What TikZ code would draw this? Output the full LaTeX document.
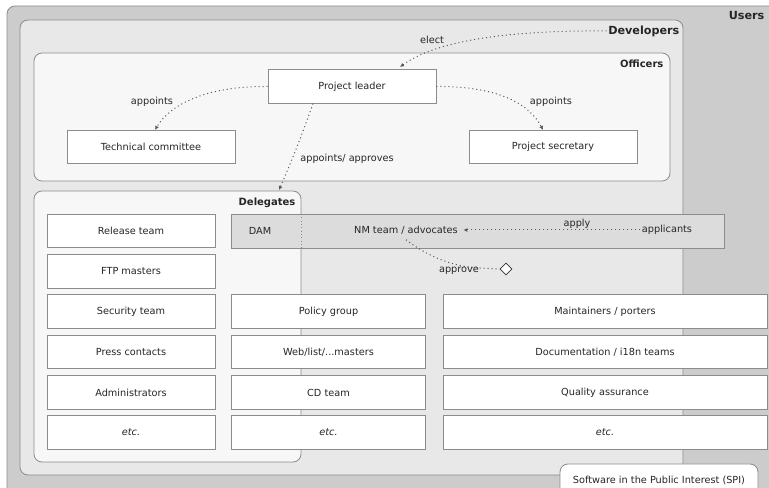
\documentclass[tikz,border=0pt]{standalone}
\usepackage{fontspec}
\setmainfont{DejaVu Sans}
\usetikzlibrary{arrows.meta,shapes.geometric}

\definecolor{usersgray}{HTML}{CCCCCC}
\definecolor{devgray}{HTML}{E8E8E8}
\definecolor{offgray}{HTML}{F7F7F7}
\definecolor{bandgray}{HTML}{DCDCDC}
\definecolor{linegray}{HTML}{8C8C8C}

\newcommand{\webtxt}{Web/list/...masters}

\tikzset{
    team/.style={draw=linegray, fill=white, line width=0.6pt, inner sep=0pt,
        minimum height=25pt, text=black!85, font=\fontsize{7.3}{8}\selectfont},
    group/.style={draw=linegray, line width=0.6pt, rounded corners=6pt},
    biglabel/.style={inner sep=1pt, text=black!85, font=\fontsize{8.4}{10}\selectfont\bfseries},
    grouplabel/.style={inner sep=1pt, text=black!85, font=\fontsize{7.5}{9}\selectfont\bfseries},
    dots/.style={line width=0.75pt, draw=black!65, dash pattern=on 0.8pt off 2.2pt},
    rel/.style={dots, -{Latex[length=3pt,width=3pt]}},
    rellabel/.style={inner sep=1pt, text=black!85, font=\fontsize{7.3}{8}\selectfont}
}

\begin{document}
\begin{tikzpicture}[x=0.75pt,y=-0.75pt]
    \useasboundingbox (0,0) rectangle (769,488);
    \clip (0,0) rectangle (769,488);

    \def\usersbox{(7,6) rectangle (800,520)}
    \def\devbox{(20,20) rectangle (683,475)}
    \def\officerbox{(34,53) rectangle (670,181)}
    \def\delegatebox{(34,191) rectangle (301,462)}

    % nested groups
    \draw[group, fill=usersgray] \usersbox;
    \draw[group, fill=devgray] \devbox;
    \draw[group, fill=offgray] \officerbox;
    \draw[group, fill=offgray] \delegatebox;

    \node[biglabel, anchor=east] (users) at (766,16) {Users};
    \node[biglabel, anchor=east] (dev) at (681,31) {Developers};
    \node[grouplabel, anchor=east] (officers) at (665,64) {Officers};
    \node[grouplabel, anchor=east] (delegates) at (297,203) {Delegates};

    % officers
    \node[team, minimum width=126pt] (leader) at (352,86.5) {Project leader};
    \node[team, minimum width=126pt] (tech) at (151,147) {Technical committee};
    \node[team, minimum width=126pt] (secretary) at (553,147) {Project secretary};

    % DAM / NM band
    \fill[bandgray] (231,214) rectangle (724,248);
    \draw[linegray, line width=0.6pt] (231,214) rectangle (724,248);
    \draw[linegray, dotted, line width=0.5pt] (301,214) -- (301,248);
    \node[rellabel] (dam) at (260,231) {DAM};
    \node[rellabel, inner sep=4pt] (nm) at (406,230) {NM team / advocates};
    \node[rellabel] (applicants) at (667,230) {applicants};
    \node[diamond, draw=black!80, fill=white, line width=0.6pt, inner sep=0pt,
        minimum width=9pt, minimum height=9pt] (dia) at (506,269) {};

    % delegates, left column
    \foreach \name/\y/\txt in {release/231/{Release team}, ftp/271.5/{FTP masters},
        security/311.5/{Security team}, press/352/{Press contacts},
        admins/392.5/{Administrators}, leftetc/432.5/{\textit{etc.}}}
        \node[team, minimum width=126pt] (\name) at (131,\y) {\txt};

    % middle column
    \foreach \name/\y/\txt in {policy/311.5/{Policy group}, web/352/{\webtxt},
        cd/392.5/{CD team}, midetc/432.5/{\textit{etc.}}}
        \node[team, minimum width=146pt] (\name) at (328.5,\y) {\txt};

    % right column
    \foreach \name/\y/\txt in {maint/311.5/{Maintainers / porters},
        doc/352/{Documentation / i18n teams}, qa/392.5/{Quality assurance},
        rightetc/432.5/{\textit{etc.}}}
        \node[team, minimum width=243pt] (\name) at (605,\y) {\txt};

    % SPI
    \draw[group, fill=white] (560,464) rectangle (758,520);
    \node[rellabel] (spi) at (659,480) {Software in the Public Interest (SPI)};

    % relations
    \coordinate (deltop) at (279,190);
    \draw[rel] (dev.west) .. controls (490,30) and (430,45) .. (400,67);
    \node[rellabel] (elect) at (432,40) {elect};
    \draw[rel] (leader.west) .. controls (205,86) and (170,105) .. (tech.north -| 155,0);
    \node[rellabel] (appl) at (152,102) {appoints};
    \draw[rel] (leader.east) .. controls (500,86) and (530,105) .. (secretary.north -| 543,0);
    \node[rellabel] (appr) at (551,102) {appoints};
    \draw[rel] (leader.south -| 313,0) .. controls (302,135) and (290,165) .. (deltop);
    \node[rellabel] (apprdel) at (347,159) {appoints/ approves};
    \draw[rel] (applicants.west) -- (nm.east);
    \node[rellabel] (apply) at (577,224) {apply};
    \draw[dots] (nm.south) .. controls (430,258) and (455,267) .. (480,268) -- (dia.west);
    \node[rellabel] (approve) at (459,271) {approve};
\end{tikzpicture}
\end{document}
